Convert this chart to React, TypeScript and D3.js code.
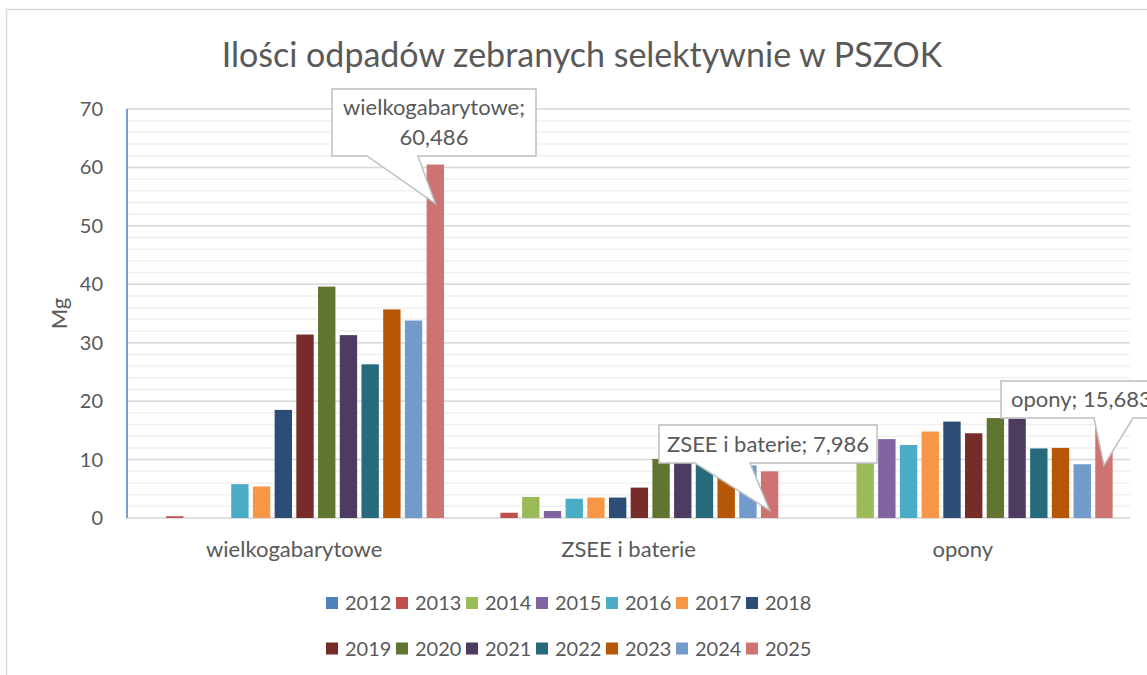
import * as d3 from "d3";

const categories = ["wielkogabarytowe", "ZSEE i baterie", "opony"];
const years = ["2012", "2013", "2014", "2015", "2016", "2017", "2018", "2019", "2020", "2021", "2022", "2023", "2024", "2025"];
const colors = ["#4F81BD", "#C0504D", "#9BBB59", "#8064A2", "#4BACC6", "#F79646", "#2C4D75", "#772C2A", "#5F7530", "#4D3B62", "#276A7C", "#B65708", "#729ACA", "#CD7371"];

// Mg per year, one array per category (order of years)
const wielkogabarytowe = [0, 0.3, 0, 0, 5.8, 5.4, 18.5, 31.4, 39.6, 31.3, 26.3, 35.7, 33.8, 60.486];
const zseeBaterie = [0, 0.9, 3.6, 1.2, 3.3, 3.5, 3.5, 5.2, 10.1, 9.4, 9.2, 8.0, 9.0, 7.986];
const opony = [0, 0, 10.5, 13.5, 12.5, 14.8, 16.5, 14.5, 17.1, 17.0, 11.9, 12.0, 9.2, 15.683];

const yTicks = [0, 10, 20, 30, 40, 50, 60, 70];
const minorTicks = d3.range(0, 71, 2);

const W = 1147;
const H = 675;
const FONT = "Lato, 'Open Sans', sans-serif";
const TEXT = "#595959";

const margin = { left: 127, right: 1130, top: 109, bottom: 518 };

// callout boxes: layout of the three data labels
const callouts = [
  { cat: 0, lines: ["wielkogabarytowe;", "60,486"], box: [332, 89, 536, 156], base: [367, 418] },
  { cat: 1, lines: ["ZSEE i baterie; 7,986"], box: [659, 425, 877, 463], base: [695, 750] },
  { cat: 2, lines: ["opony; 15,683"], box: [1001, 381, 1175, 418], base: [1094, 1133], left: true },
];

export default function App() {
  const series = [wielkogabarytowe, zseeBaterie, opony];

  const x0 = d3.scaleBand<string>().domain(categories).range([margin.left, margin.right]);
  const x1 = d3
    .scaleBand<string>()
    .domain(years)
    .range([0, x0.bandwidth()])
    .paddingInner(0.2)
    .paddingOuter(0.8);
  const y = d3.scaleLinear().domain([0, 70]).range([margin.bottom, margin.top]);

  const legendRows = [years.slice(0, 7), years.slice(7)];

  return (
    <div style={{ position: "absolute", left: 0, top: 0 }}>
      <svg width={W} height={H} style={{ display: "block", fontFamily: FONT }}>
        <rect x={0} y={0} width={W} height={H} fill="#fff" />
        <rect x={6.5} y={9.5} width={1170} height={720} fill="#fff" stroke="#D9D9D9" strokeWidth={1.5} />

        <text x={582} y={67} textAnchor="middle" fontSize={34} fill={TEXT}>
          Ilości odpadów zebranych selektywnie w PSZOK
        </text>

        {/* grid */}
        {minorTicks.map((t) => (
          <line key={"m" + t} x1={margin.left} x2={margin.right} y1={y(t)} y2={y(t)} stroke="#F0F0F0" strokeWidth={1.5} />
        ))}
        {yTicks.map((t) => (
          <line key={"g" + t} x1={margin.left} x2={margin.right} y1={y(t)} y2={y(t)} stroke="#D9D9D9" strokeWidth={1.5} />
        ))}

        {/* y tick labels */}
        {yTicks.map((t) => (
          <text key={"t" + t} x={103} y={y(t)} dy="0.35em" textAnchor="end" fontSize={20} fill={TEXT}>
            {t}
          </text>
        ))}
        <text transform={`translate(67,${(margin.top + margin.bottom) / 2}) rotate(-90)`} textAnchor="middle" fontSize={22} fill={TEXT}>
          Mg
        </text>

        {/* bars */}
        {categories.map((c, ci) => (
          <g key={c} transform={`translate(${x0(c)},0)`}>
            {years.map((yr, si) =>
              series[ci][si] > 0 ? (
                <rect
                  key={yr}
                  x={x1(yr)}
                  y={y(series[ci][si])}
                  width={x1.bandwidth()}
                  height={y(0) - y(series[ci][si])}
                  fill={colors[si]}
                />
              ) : null
            )}
          </g>
        ))}

        <line x1={margin.left} x2={margin.left} y1={margin.top} y2={margin.bottom} stroke="#4F81BD" strokeWidth={1.5} />

        {/* category labels */}
        {categories.map((c) => (
          <text key={c} x={(x0(c) as number) + x0.bandwidth() / 2} y={557} textAnchor="middle" fontSize={22} fill={TEXT}>
            {c}
          </text>
        ))}

        {/* callouts */}
        {callouts.map((co) => {
          const cat = categories[co.cat];
          const last = years[years.length - 1];
          const tipX = (x0(cat) as number) + (x1(last) as number) + x1.bandwidth() / 2;
          const tipY = y(series[co.cat][years.length - 1]) + 39;
          const [bx0, by0, bx1, by1] = co.box;
          const path = `M${bx0},${by0}H${bx1}V${by1}H${co.base[1]}L${tipX},${tipY}L${co.base[0]},${by1}H${bx0}Z`;
          const lh = 30;
          const cy = (by0 + by1) / 2 - ((co.lines.length - 1) * lh) / 2;
          return (
            <g key={cat}>
              <path d={path} fill="#fff" stroke="#BFBFBF" strokeWidth={1.5} />
              {co.lines.map((l, i) => (
                <text
                  key={i}
                  x={co.left ? bx0 + 10 : (bx0 + bx1) / 2}
                  y={cy + i * lh}
                  dy="0.35em"
                  textAnchor={co.left ? "start" : "middle"}
                  fontSize={22}
                  fill={TEXT}
                >
                  {l}
                </text>
              ))}
            </g>
          );
        })}

        {/* legend */}
        {legendRows.map((row, ri) =>
          row.map((yr, i) => {
            const idx = years.indexOf(yr);
            const lx = 326 + i * 70;
            const ly = 603 + ri * 45.5;
            return (
              <g key={yr}>
                <rect x={lx} y={ly - 6} width={12} height={12} fill={colors[idx]} />
                <text x={lx + 19} y={ly} dy="0.35em" fontSize={20} fill={TEXT}>
                  {yr}
                </text>
              </g>
            );
          })
        )}
      </svg>
    </div>
  );
}
